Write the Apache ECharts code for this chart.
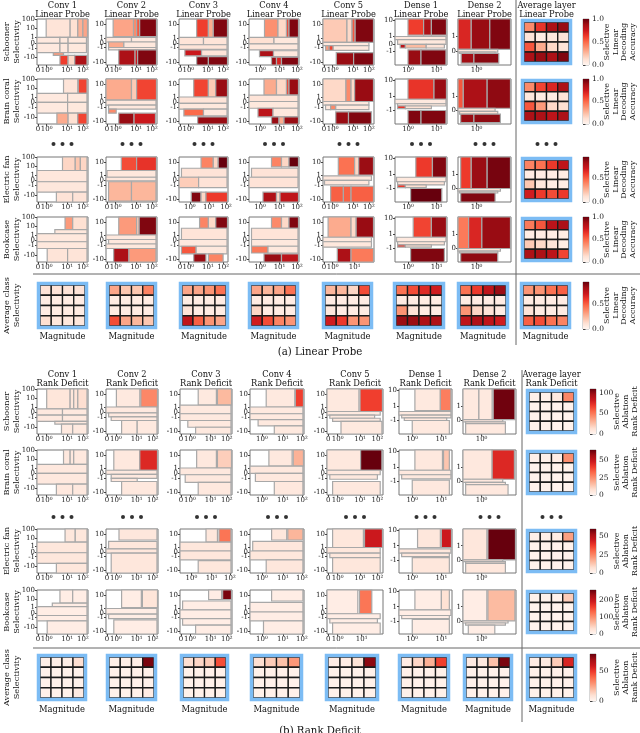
<!DOCTYPE html>
<html>
<head>
<meta charset="utf-8">
<script src="https://cdn.jsdelivr.net/npm/echarts@6/dist/echarts.min.js"></script>
<style>html,body{margin:0;background:#fff}#main{width:640px;height:733px}</style>
</head>
<body>
<div id="main"></div>
<script>
// ---- tick positions (normalised symlog axis) and their labels ----
var x4Pos = [0.02, 0.19, 0.59, 0.9], x4Txt = ['0', '10⁰', '10¹', '10²'];
var x3Pos = [0.22, 0.61, 0.96],      x3Txt = ['10⁰', '10¹', '10²'];
var x3zPos = [0.02, 0.19, 0.62],     x3zTxt = ['0', '10⁰', '10¹'];
var xd1Pos = [0.25, 0.8],            xd1Txt = ['10⁰', '10¹'];
var xd2Pos = [0.35],                 xd2Txt = ['10⁰'];
var yaPos = [1.0, 0.8, 0.6, 0.48, 0.37, 0.16], yaTxt = ['100', '10', '1', '0', '-1', '-10'];
var ybPos = [0.88, 0.59, 0.48, 0.38, 0.07],    ybTxt = ['10', '1', '0', '-1', '-10'];
var ycPos = [0.98, 0.62, 0.45, 0.3],           ycTxt = ['10', '1', '0', '-1'];
var ydPos = [0.62, 0.3],                       ydTxt = ['1', '0'];

var columns = ['Conv 1', 'Conv 2', 'Conv 3', 'Conv 4', 'Conv 5', 'Dense 1', 'Dense 2', 'Average layer'];
var rowNames = ['Schooner', 'Brain coral', 'Electric fan', 'Bookcase', 'Average class'];

// ---- (a) linear probe: rectangles [x0, x1, y0, y1, accuracy] ----
var lpSchooner = [
  [[.18,.65,.6,1,.1],[.65,.8,.6,1,.12],[.8,.9,.6,1,.28],[.9,.99,.6,1,.32],[0,.45,.47,.6,.07],[.45,.61,.47,.6,.08],[.61,.97,.47,.6,.08],[0,.45,.27,.47,.07],[.45,.61,.27,.47,.08],[.61,.97,.27,.47,.08],[.32,.52,.21,.27,.35],[.45,.61,0,.21,.62],[.61,.74,0,.21,.15],[.74,.98,0,.21,.85]],
  [[.14,.54,.62,1,.32],[.54,.6,.62,1,.4],[.6,.66,.62,1,.55],[.66,.99,.62,1,.95],[0,.5,.5,.6,.08],[.5,.98,.5,.6,.07],[.05,.35,.38,.5,.3],[.35,.98,.38,.5,.08],[.05,.98,.33,.38,.08],[.25,.57,0,.33,.85],[.57,.62,0,.33,.75],[.62,.99,0,.33,.95]],
  [[.36,.6,.6,1,.62],[.6,.7,.6,1,.3],[.7,.99,.6,1,.95],[0,.5,.44,.6,.1],[.5,.98,.44,.6,.1],[0,.98,.34,.44,.1],[.12,.46,.2,.33,.75],[.46,.98,.2,.33,.1],[.36,.6,0,.18,.95],[.6,.99,0,.18,.95]],
  [[.31,.58,.6,1,.38],[.58,.75,.6,1,.15],[.75,.8,.6,1,.6],[.8,.99,.6,1,.95],[0,.5,.46,.6,.12],[.5,.98,.46,.6,.08],[0,.98,.33,.46,.08],[.21,.49,.18,.31,.85],[.49,.98,.18,.31,.08],[.45,.55,0,.17,.9],[.55,.65,0,.17,.7],[.65,.99,0,.17,.95]],
  [[0,.47,.49,1,.2],[.47,.57,.49,1,.15],[.57,.63,.49,1,.55],[.63,.99,.49,1,.95],[0,.9,.42,.49,.08],[.05,.12,.32,.42,.35],[.12,.2,.32,.42,.6],[.2,.9,.32,.42,.08],[.26,.6,0,.27,.9],[.6,.99,0,.27,.95]],
  [[.25,.55,.65,1,.62],[.55,.7,.65,1,.85],[.7,.99,.65,1,.95],[0,.98,.55,.62,.07],[.05,.98,.45,.55,.08],[.1,.2,.37,.45,.8],[.2,.6,.37,.45,.25],[.6,.95,.37,.45,.1],[.25,.5,0,.33,.9],[.5,.98,0,.33,.95]],
  [[0,.25,.34,1,.7],[.25,.6,.34,1,.9],[.6,.99,.34,1,.95],[0,.75,.28,.34,.1],[.03,.7,.25,.28,.15],[.06,.3,.04,.25,.88],[.3,.77,.04,.25,.93]]
];
var lpCoral = [
  [[.52,.8,.68,1,.1],[.81,.98,.68,1,.6],[0,.6,.48,.68,.07],[.6,.98,.48,.68,.08],[0,.6,.24,.48,.07],[.6,.98,.24,.48,.08],[.39,.61,0,.24,.3],[.61,.8,0,.24,.12],[.8,.98,0,.24,.6]],
  [[0,.5,.53,1,.3],[.5,.6,.53,1,.2],[.6,.99,.53,1,.6],[0,.98,.42,.53,.08],[.05,.98,.33,.42,.08],[.05,.2,.24,.33,.4],[.25,.55,0,.24,.9],[.55,.97,0,.24,.75]],
  [[.3,.6,.6,1,.6],[.6,.75,.6,1,.2],[.75,.99,.6,1,.9],[0,.98,.46,.6,.1],[0,.98,.33,.46,.08],[.1,.5,.18,.33,.5],[.5,.98,.18,.33,.08],[.38,.99,0,.16,.9]],
  [[.3,.55,.64,1,.3],[.55,.75,.64,1,.15],[.75,.8,.64,1,.6],[.8,.99,.64,1,.9],[0,.98,.5,.64,.1],[0,.98,.35,.5,.08],[.18,.48,.16,.35,.8],[.48,.98,.16,.35,.08],[.45,.6,0,.16,.9],[.6,.7,0,.16,.3],[.7,.99,0,.16,.9]],
  [[0,.45,.5,1,.15],[.45,.55,.5,1,.4],[.55,.62,.5,1,.15],[.62,.99,.5,1,.9],[0,.9,.42,.5,.08],[.05,.15,.32,.42,.08],[.15,.25,.32,.42,.4],[.25,.9,.32,.42,.08],[.25,.5,0,.27,.9],[.5,.95,0,.27,.95]],
  [[.25,.75,.55,1,.65],[.75,.99,.55,1,.9],[0,.98,.45,.55,.07],[.05,.98,.4,.45,.08],[.05,.2,.34,.4,.65],[.2,.7,.34,.4,.12],[.25,.5,0,.3,.95],[.5,.98,0,.3,.95]],
  [[0,.1,.35,1,.55],[.1,.55,.35,1,.85],[.55,.99,.35,1,.92],[0,.7,.28,.35,.1],[.03,.75,.22,.28,.12],[.05,.3,.03,.22,.9],[.3,.8,.03,.22,.92]]
];
var lpFan = [
  [[.5,.75,.7,1,.15],[.75,.85,.7,1,.2],[.85,.98,.7,1,.15],[0,.98,.45,.7,.08],[0,.98,.22,.45,.08],[.38,.7,0,.22,.1],[.7,.98,0,.22,.1]],
  [[.3,.6,.7,1,.55],[.6,.99,.7,1,.62],[.02,.98,.55,.7,.08],[0,.98,.47,.55,.08],[.05,.5,.02,.45,.25],[.5,.98,.02,.45,.25]],
  [[.45,.7,.75,1,.4],[.7,.8,.75,1,.15],[.8,.99,.75,1,.95],[.05,.98,.55,.75,.1],[0,.4,.32,.55,.18],[.4,.98,.32,.55,.1],[.25,.45,0,.22,.9],[.45,.55,0,.22,.15],[.55,.99,0,.22,.6]],
  [[.45,.65,.78,1,.4],[.65,.8,.78,1,.15],[.8,.99,.78,1,.95],[.05,.98,.55,.75,.1],[0,.98,.32,.55,.1],[.28,.55,0,.22,.8],[.55,.62,0,.22,.15],[.62,.99,0,.22,.75]],
  [[.3,.62,.6,1,.45],[.62,.7,.6,1,.15],[.7,.99,.6,1,.85],[0,.95,.48,.58,.08],[.03,.9,.38,.48,.08],[.15,.4,0,.35,.5],[.4,.55,0,.35,.5],[.55,.99,0,.35,.5]],
  [[.4,.72,.55,1,.6],[.72,.99,.55,1,.9],[.03,.98,.45,.55,.07],[.05,.95,.38,.45,.1],[.05,.2,.32,.38,.6],[.2,.6,.32,.38,.12],[.3,.9,0,.3,.95]],
  [[.05,.25,.3,1,.6],[.25,.55,.3,1,.85],[.55,.99,.3,1,.92],[0,.8,.24,.3,.1],[.03,.75,.2,.24,.12],[.05,.7,0,.2,.9]]
];
var lpBook = [
  [[.55,.7,.72,1,.35],[.7,.98,.72,1,.12],[.35,.98,.63,.72,.08],[0,.98,.45,.63,.08],[0,.98,.3,.45,.08],[.2,.6,0,.3,.1],[.6,.98,0,.3,.1]],
  [[.25,.6,.6,1,.35],[.6,.65,.6,1,.2],[.65,.99,.6,1,.95],[0,.98,.5,.6,.08],[.05,.98,.4,.5,.08],[0,.98,.3,.4,.08],[.15,.45,0,.3,.85],[.45,.98,0,.3,.35]],
  [[.42,.6,.75,1,.42],[.6,.75,.75,1,.15],[.75,.99,.75,1,.95],[.05,.98,.5,.75,.1],[0,.98,.35,.5,.08],[.05,.35,.18,.35,.55],[.35,.98,.18,.35,.08],[.3,.55,0,.18,.9],[.6,.9,0,.18,.42]],
  [[.45,.65,.75,1,.4],[.65,.8,.75,1,.15],[.8,.99,.75,1,.95],[.05,.98,.5,.75,.1],[.05,.98,.35,.5,.08],[.05,.38,.2,.35,.45],[.38,.98,.2,.35,.08],[.3,.65,0,.18,.9],[.65,.99,0,.18,.8]],
  [[.1,.55,.55,1,.3],[.55,.65,.55,1,.15],[.65,.99,.55,1,.9],[0,.95,.45,.55,.08],[0,.95,.33,.45,.08],[.28,.55,0,.3,.85],[.55,.99,0,.3,.45]],
  [[.35,.7,.55,1,.6],[.7,.99,.55,1,.9],[.03,.98,.45,.55,.07],[.05,.95,.38,.45,.1],[.05,.2,.33,.38,.65],[.2,.7,.33,.38,.12],[.3,.95,0,.3,.95]],
  [[0,.2,.3,1,.45],[.2,.45,.3,1,.7],[.45,.99,.3,1,.9],[0,.8,.24,.3,.1],[.03,.75,.2,.24,.12],[.05,.75,0,.2,.92]]
];
// average over layers (rows 1-4) and average over classes (one per column), 4x4, top row first
var lpLayerAvg = [
  [[.4,.65,.85,.9],[.1,.05,.08,.1],[.55,.3,.15,.1],[.85,.9,.85,.95]],
  [[.4,.6,.7,.85],[.08,.05,.05,.1],[.55,.35,.15,.12],[.85,.85,.8,.85]],
  [[.4,.45,.6,.75],[.05,.05,.05,.05],[.2,.08,.05,.05],[.7,.6,.55,.6]],
  [[.45,.55,.8,.85],[.05,.05,.05,.05],[.2,.15,.1,.05],[.85,.85,.8,.6]]
];
var lpClassAvg = [
  [[.1,.1,.1,.1],[.05,.05,.05,.05],[.05,.05,.05,.05],[.12,.08,.08,.08]],
  [[.3,.2,.2,.4],[.05,.05,.05,.05],[.05,.05,.05,.05],[.55,.3,.25,.2]],
  [[.3,.3,.35,.45],[.05,.05,.05,.05],[.1,.05,.05,.05],[.75,.5,.35,.3]],
  [[.3,.25,.3,.45],[.05,.05,.05,.05],[.15,.05,.05,.05],[.7,.55,.4,.35]],
  [[.25,.25,.15,.55],[.05,.05,.05,.05],[.08,.05,.05,.05],[.7,.6,.35,.35]],
  [[.45,.55,.65,.7],[.05,.05,.05,.05],[.35,.1,.05,.05],[.85,.85,.8,.8]],
  [[.45,.6,.75,.85],[.05,.05,.05,.05],[.35,.15,.1,.05],[.75,.8,.75,.7]],
  [[.35,.35,.45,.5],[.05,.05,.05,.05],[.1,.05,.05,.05],[.5,.55,.45,.4]]
];
var lpMax = [1.0, 1.0, 0.95, 1.0, 0.95];
var lpTicks = [[0, 0.5, 1], [0, 0.5, 1], [0, 0.5], [0, 0.5, 1], [0, 0.5]];

// ---- (b) rank deficit: rectangles [x0, x1, y0, y1, deficit] ----
var rdSchooner = [
  [[.19,.65,.56,1,10],[.65,.72,.56,1,10],[.72,.8,.56,1,11],[.8,.98,.56,1,14],[0,.5,.42,.56,8],[.5,.98,.42,.56,8],[0,.5,.28,.42,8],[.5,.98,.28,.42,8],[.35,.98,.22,.28,8],[.48,.7,0,.22,8],[.7,.98,0,.22,8]],
  [[.2,.65,.6,1,8],[.67,.99,.6,1,45],[0,.98,.47,.6,8],[.05,.98,.38,.47,8],[.1,.98,.3,.38,8],[.3,.6,0,.3,8],[.6,.98,0,.3,8]],
  [[.35,.7,.64,1,8],[.72,.99,.64,1,28],[0,.98,.45,.64,8],[0,.98,.3,.45,8],[.15,.98,.15,.3,8],[.3,.98,0,.15,8]],
  [[.3,.83,.6,1,8],[.84,.99,.6,1,68],[0,.98,.45,.6,8],[0,.98,.32,.45,8],[.15,.98,.18,.32,8],[.45,.98,0,.18,8]],
  [[0,.57,.5,1,8],[.59,.99,.5,1,68],[0,.95,.42,.5,8],[.05,.85,.35,.42,8],[.1,.95,.28,.35,8],[.25,.98,0,.28,8]],
  [[.3,.78,.52,1,8],[.78,.98,.52,1,48],[0,.98,.42,.5,8],[.05,.98,.36,.42,8],[.1,.9,.3,.36,8],[.25,.95,0,.3,8]],
  [[0,.3,.32,1,8],[.3,.55,.32,1,8],[.57,.98,.32,1,108],[0,.75,.27,.32,8],[.05,.8,.23,.27,8],[.05,.8,0,.23,8]]
];
var rdCoral = [
  [[.52,.65,.68,1,5],[.65,.72,.68,1,5],[.72,.98,.68,1,5],[0,.98,.48,.68,5],[0,.98,.24,.48,5],[.38,.7,0,.24,5],[.7,.98,0,.24,5]],
  [[.15,.65,.55,1,5],[.65,.99,.55,1,45],[0,.98,.46,.55,5],[.1,.98,.37,.46,5],[.1,.6,.3,.37,5],[.3,.98,0,.3,5]],
  [[.32,.7,.6,1,5],[.72,.99,.6,1,12],[0,.98,.45,.6,5],[.1,.98,.28,.45,5],[.35,.98,0,.28,5]],
  [[.35,.78,.64,1,5],[.8,.99,.64,1,18],[0,.98,.48,.64,5],[.1,.98,.3,.48,5],[.45,.98,0,.3,5]],
  [[0,.6,.55,1,5],[.6,.98,.55,1,65],[0,.95,.45,.55,5],[.05,.9,.35,.45,5],[.1,.95,0,.3,5]],
  [[.3,.82,.55,1,5],[.84,.95,.55,1,14],[0,.98,.45,.55,5],[.05,.98,.36,.45,5],[.25,.95,0,.33,5]],
  [[0,.55,.35,1,5],[.55,.97,.35,1,45],[0,.75,.28,.35,5],[.05,.8,.23,.28,5],[.05,.85,0,.23,5]]
];
var rdFan = [
  [[.55,.75,.7,1,5],[.75,.98,.7,1,5],[0,.98,.46,.7,5],[0,.98,.22,.46,5],[.38,.98,0,.22,5]],
  [[.25,.98,.75,1,5],[.05,.98,.55,.72,5],[0,.98,.45,.55,5],[.1,.98,0,.45,5]],
  [[.5,.72,.7,1,5],[.75,.98,.7,1,28],[0,.98,.5,.7,5],[0,.98,.3,.5,5],[.35,.98,0,.28,5]],
  [[.4,.68,.75,1,5],[.7,.98,.75,1,16],[.05,.98,.5,.72,5],[0,.98,.3,.5,5],[.3,.98,0,.3,5]],
  [[.1,.65,.58,1,5],[.67,.99,.58,1,45],[0,.95,.45,.58,5],[.05,.95,.35,.45,5],[.1,.95,0,.35,5]],
  [[.35,.78,.58,1,5],[.8,.99,.58,1,45],[0,.98,.45,.55,5],[.05,.95,.37,.45,5],[.25,.95,0,.35,5]],
  [[0,.45,.3,1,5],[.47,.99,.3,1,60],[0,.75,.26,.3,5],[.05,.8,.22,.26,5],[.05,.8,0,.22,5]]
];
var rdBook = [
  [[.45,.7,.7,1,12],[.7,.98,.7,1,12],[.3,.98,.62,.7,12],[0,.98,.42,.62,12],[0,.98,.3,.42,12],[.2,.98,0,.3,12]],
  [[.3,.68,.6,1,12],[.7,.99,.6,1,25],[0,.98,.45,.58,12],[.05,.98,.35,.45,12],[.15,.98,0,.32,12]],
  [[.55,.8,.78,1,12],[.82,.99,.78,1,250],[.05,.98,.55,.75,12],[0,.98,.35,.55,12],[.05,.98,.2,.35,12],[.3,.98,0,.2,12]],
  [[.4,.98,.75,1,12],[0,.98,.5,.72,12],[0,.98,.3,.5,12],[.25,.98,0,.3,12]],
  [[0,.55,.46,1,12],[.58,.8,.46,1,120],[0,.95,.35,.46,12],[.05,.9,.25,.35,12],[.1,.95,0,.25,12]],
  [[.3,.8,.55,1,12],[.8,.95,.55,1,30],[0,.98,.42,.55,12],[.05,.95,.35,.42,12],[.25,.95,0,.33,12]],
  [[0,.45,.3,1,12],[.47,.98,.3,1,65],[0,.85,.25,.3,12],[.05,.8,.2,.25,12],[.1,.6,0,.2,12]]
];
var rdLayerAvg = [
  [[3,3,8,45],[2,2,2,2],[2,2,2,2],[2,2,2,2]],
  [[2,2,3,25],[1,1,1,1],[1,1,1,1],[1,1,1,1]],
  [[2,2,3,20],[1,1,1,1],[1,1,1,1],[1,1,1,1]],
  [[5,5,5,50],[3,3,3,3],[3,3,3,3],[3,3,3,3]]
];
var rdClassAvg = [
  [[3,3,3,10],[2,2,2,2],[2,2,2,2],[2,2,2,5]],
  [[3,3,3,75],[2,2,2,2],[2,2,2,2],[2,2,2,4]],
  [[10,12,15,45],[2,2,2,2],[2,2,2,2],[2,2,2,2]],
  [[10,15,18,28],[2,2,2,2],[2,2,2,2],[2,2,2,2]],
  [[4,4,8,72],[2,2,2,2],[2,2,2,2],[2,2,2,2]],
  [[4,12,22,48],[2,2,2,2],[2,2,2,2],[2,2,2,2]],
  [[5,6,18,75],[2,2,2,2],[2,2,2,2],[2,2,2,2]],
  [[4,5,15,55],[2,2,2,2],[2,2,2,2],[2,2,2,2]]
];
var rdMax = [110, 65, 60, 260, 78];
var rdTicks = [[0, 50, 100], [0, 25, 50], [0, 25, 50], [0, 100, 200], [0, 50]];

// ---- layout ----
var SERIF = 'DejaVu Serif';
var reds = ['#fff5f0','#fee0d2','#fcbba1','#fc9272','#fb6a4a','#ef3b2c','#cb181d','#a50f15','#67000d'];
function shade(v, vmax) { return echarts.color.lerp(Math.max(0, Math.min(1, v / vmax)), reds); }

var A = {
  colLeft: [37,106,179,249,323,395,458,521], colW: [51,51,49,50,51,52,53,51],
  classLeft: [37,106,179,248,322,393,457,520], classW: [51,51,50,51,51,52,52,51],
  rowTop: [19,79,157,217,282], rowH: [46,45,45,45,47],
  cbLeft: 583, cbText: 620, titleTop: 1, dotY: 144, magY: 337, capY: 352, hLine: 274, vLine: 516, vTop: 0, vBot: 345
};
var B = {
  colLeft: [37,106,180,250,327,399,463,526], colW: [51,52,52,54,56,53,53,51],
  classLeft: [37,106,180,250,325,398,463,526], classW: [50,51,49,53,54,52,50,51],
  rowTop: [389,450,529,590,654], rowH: [45,45,44,44,47],
  cbLeft: 590, cbText: 626, titleTop: 370, dotY: 517, magY: 710, capY: 731, hLine: 648, vLine: 522, vTop: 370, vBot: 722
};

var xKinds = {x4: [x4Pos, x4Txt], x3: [x3Pos, x3Txt], x3z: [x3zPos, x3zTxt], xd1: [xd1Pos, xd1Txt], xd2: [xd2Pos, xd2Txt]};
var yKinds = [[yaPos, yaTxt], [ybPos, ybTxt], [ybPos, ybTxt], [ybPos, ybTxt], [ybPos, ybTxt], [ycPos, ycTxt], [ydPos, ydTxt]];
var xRowKinds = [
  ['x4','x4','x4','x3','x4','xd1','xd2'],
  ['x4','x4','x4','x3','x4','xd1','xd2'],
  ['x4','x4','x3','x3','x4','xd1','xd2'],
  ['x4','x4','x4','x3','x3z','xd1','xd2']
];

var grids = [], xAxes = [], yAxes = [], series = [], graphic = [];

function labeler(kind) {
  return function (val) {
    for (var i = 0; i < kind[0].length; i++) if (Math.abs(kind[0][i] - val) < 1e-6) return kind[1][i];
    return '';
  };
}

function addPartition(left, top, w, h, rects, vmax, xk, yk) {
  var g = grids.length;
  grids.push({left: left, top: top, width: w, height: h, show: true, borderColor: '#777', borderWidth: 1, outerBoundsMode: 'none'});
  var lab = {fontSize: 7, fontFamily: SERIF, color: '#222', margin: 2, hideOverlap: false, showMinLabel: true, showMaxLabel: true};
  xAxes.push({type: 'value', gridIndex: g, min: 0, max: 1, splitLine: {show: false}, axisLine: {show: false},
    axisTick: {customValues: xk[0], length: 2, lineStyle: {color: '#444'}},
    axisLabel: Object.assign({customValues: xk[0], formatter: labeler(xk)}, lab)});
  yAxes.push({type: 'value', gridIndex: g, min: 0, max: 1, splitLine: {show: false}, axisLine: {show: false},
    axisTick: {customValues: yk[0], length: 2, lineStyle: {color: '#444'}},
    axisLabel: Object.assign({customValues: yk[0], formatter: labeler(yk)}, lab)});
  series.push({type: 'custom', xAxisIndex: g, yAxisIndex: g, data: rects, silent: true, animation: false,
    renderItem: function (params, api) {
      var a = api.coord([api.value(0), api.value(2)]);
      var b = api.coord([api.value(1), api.value(3)]);
      return {type: 'rect', shape: {x: a[0], y: b[1], width: b[0] - a[0], height: a[1] - b[1]},
        style: {fill: shade(api.value(4), vmax), stroke: '#a8a8a8', lineWidth: 1.2}};
    }});
}

function addCells(left, top, w, h, matrix, vmax) {
  var g = grids.length, pad = 3, cells = [];
  grids.push({left: left + pad, top: top + pad, width: w - 2 * pad, height: h - 2 * pad, outerBoundsMode: 'none'});
  xAxes.push({type: 'value', gridIndex: g, min: 0, max: 4, show: false});
  yAxes.push({type: 'value', gridIndex: g, min: 0, max: 4, show: false});
  matrix.forEach(function (row, r) { row.forEach(function (v, c) { cells.push([c, 3 - r, v]); }); });
  series.push({type: 'custom', xAxisIndex: g, yAxisIndex: g, data: cells, silent: true, animation: false,
    renderItem: function (params, api) {
      var a = api.coord([api.value(0), api.value(1)]);
      var b = api.coord([api.value(0) + 1, api.value(1) + 1]);
      return {type: 'rect', shape: {x: a[0], y: b[1], width: b[0] - a[0], height: a[1] - b[1]},
        style: {fill: shade(api.value(2), vmax), stroke: '#1a1a1a', lineWidth: 1.3}};
    }});
  graphic.push({type: 'rect', z: 100, silent: true, shape: {x: left + 1.5, y: top + 1.5, width: w - 3, height: h - 3},
    style: {fill: null, stroke: '#7cbcf4', lineWidth: 3.5}});
}

function addColorbar(left, top, h, vmax, ticks, dec) {
  var g = grids.length;
  grids.push({left: left, top: top, width: 6, height: h, show: true, borderColor: '#999', borderWidth: 0.8, outerBoundsMode: 'none'});
  xAxes.push({type: 'value', gridIndex: g, min: 0, max: 1, show: false});
  yAxes.push({type: 'value', gridIndex: g, min: 0, max: vmax, position: 'right',
    splitLine: {show: false}, axisLine: {show: false},
    axisTick: {customValues: ticks, length: 2.5, lineStyle: {color: '#444'}},
    axisLabel: {customValues: ticks, fontSize: 7.5, fontFamily: SERIF, color: '#222', margin: 3,
      hideOverlap: false, showMinLabel: true, showMaxLabel: true,
      formatter: function (v) { return v.toFixed(dec); }}});
  var stops = reds.map(function (c, i) { return {offset: i / (reds.length - 1), color: c}; });
  series.push({type: 'custom', xAxisIndex: g, yAxisIndex: g, data: [[0, vmax]], silent: true, animation: false,
    renderItem: function (params, api) {
      var a = api.coord([0, 0]), b = api.coord([1, api.value(1)]);
      return {type: 'rect', shape: {x: a[0], y: b[1], width: b[0] - a[0], height: a[1] - b[1]},
        style: {fill: new echarts.graphic.LinearGradient(0, 1, 0, 0, stops)}};
    }});
}

function text(x, y, str, size, extra, vAlign, lh) {
  graphic.push(Object.assign({type: 'text', x: x, y: y, silent: true,
    style: {text: str, fontSize: size, fontFamily: SERIF, fill: '#111', align: 'center',
      verticalAlign: vAlign || 'middle', lineHeight: lh || size + 1}}, extra || {}));
}

function buildPanel(L, rows, layerAvg, classAvg, maxes, ticks, dec, sub, cbTitle, caption) {
  columns.forEach(function (c, i) {
    text(L.colLeft[i] + L.colW[i] / 2, L.titleTop, c + '\n' + sub, 8.3, null, 'top', 9);
  });
  rows.forEach(function (plots, r) {
    plots.forEach(function (rects, c) {
      addPartition(L.colLeft[c], L.rowTop[r], L.colW[c], L.rowH[r], rects, maxes[r], xKinds[xRowKinds[r][c]], yKinds[c]);
    });
    addCells(L.colLeft[7], L.rowTop[r], L.colW[7], L.rowH[r], layerAvg[r], maxes[r]);
  });
  classAvg.forEach(function (m, c) {
    addCells(L.classLeft[c], L.rowTop[4], L.classW[c], L.rowH[4], m, maxes[4]);
    text(L.classLeft[c] + L.classW[c] / 2, L.magY, 'Magnitude', 8.4);
  });
  for (var r = 0; r < 5; r++) {
    addColorbar(L.cbLeft, L.rowTop[r], L.rowH[r], maxes[r], ticks[r], dec);
    text(12, L.rowTop[r] + L.rowH[r] / 2, rowNames[r] + '\nSelectivity', 8.2, {rotation: Math.PI / 2}, 'middle', 10);
    text(L.cbText, L.rowTop[r] + L.rowH[r] / 2, cbTitle, 8, {rotation: Math.PI / 2}, 'middle', 8.6);
  }
  for (var c = 0; c < 8; c++) {
    var cx = L.colLeft[c] + L.colW[c] / 2;
    [-9, 0, 9].forEach(function (d) {
      graphic.push({type: 'circle', silent: true, shape: {cx: cx + d, cy: L.dotY, r: 2}, style: {fill: '#333'}});
    });
  }
  graphic.push({type: 'line', silent: true, shape: {x1: L.vLine, y1: L.vTop, x2: L.vLine, y2: L.vBot}, style: {stroke: '#666', lineWidth: 1}});
  graphic.push({type: 'line', silent: true, shape: {x1: 33, y1: L.hLine, x2: 640, y2: L.hLine}, style: {stroke: '#666', lineWidth: 1}});
  text(320, L.capY, caption, 10.2);
}

buildPanel(A, [lpSchooner, lpCoral, lpFan, lpBook], lpLayerAvg, lpClassAvg, lpMax, lpTicks, 1,
  'Linear Probe', 'Selective\nLinear\nDecoding\nAccuracy', '(a) Linear Probe');
buildPanel(B, [rdSchooner, rdCoral, rdFan, rdBook], rdLayerAvg, rdClassAvg, rdMax, rdTicks, 0,
  'Rank Deficit', 'Selective\nAblation\nRank Deficit', '(b) Rank Deficit');

var chart = echarts.init(document.getElementById('main'));
chart.setOption({
  animation: false,
  backgroundColor: '#fff',
  grid: grids,
  xAxis: xAxes,
  yAxis: yAxes,
  series: series,
  graphic: graphic
});
</script>
</body>
</html>
